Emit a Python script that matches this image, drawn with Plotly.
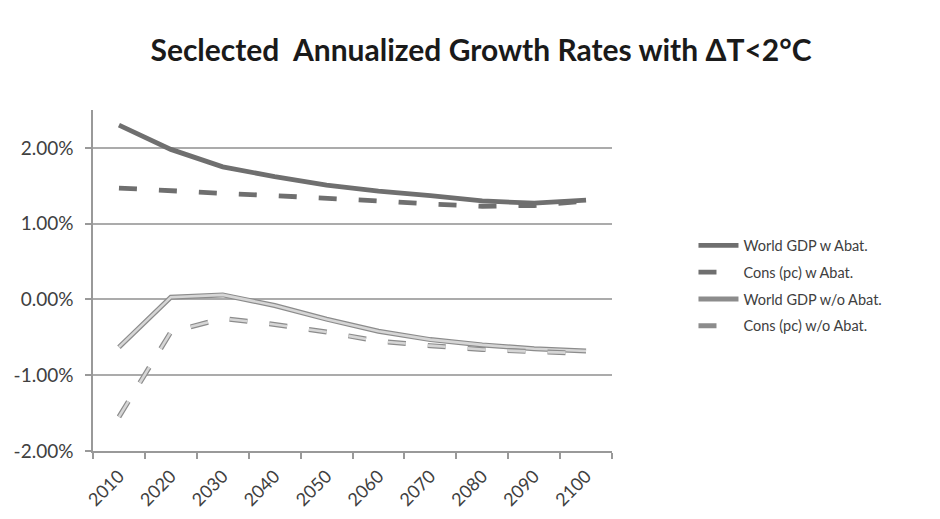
import plotly.graph_objects as go

years = ["2010", "2020", "2030", "2040", "2050", "2060", "2070", "2080", "2090", "2100"]
gdp_w_abat = [2.30, 1.98, 1.75, 1.62, 1.51, 1.43, 1.37, 1.30, 1.27, 1.31]
cons_w_abat = [1.47, 1.43, 1.40, 1.37, 1.34, 1.30, 1.26, 1.23, 1.24, 1.30]
gdp_wo_abat = [-0.63, 0.03, 0.06, -0.08, -0.26, -0.42, -0.53, -0.60, -0.65, -0.68]
cons_wo_abat = [-1.55, -0.43, -0.25, -0.33, -0.43, -0.55, -0.61, -0.66, -0.69, -0.71]

y_tick_vals = [-2, -1, 0, 1, 2]
y_tick_text = ["-2.00%", "-1.00%", "0.00%", "1.00%", "2.00%"]

names = ["World GDP w Abat.", "Cons (pc) w Abat.", "World GDP w/o Abat.", "Cons (pc) w/o Abat."]

DARK = "#6f6f6f"
OUTLINE = "#8c8c8c"
LIGHT = "#d6d6d6"
DASH = "18px,22px"
FONT = "Lato, 'Open Sans', sans-serif"

fig = go.Figure()
fig.add_trace(go.Scatter(x=years, y=gdp_w_abat, mode="lines", name=names[0], legendgroup="g1",
                         line=dict(color=DARK, width=4.8)))
fig.add_trace(go.Scatter(x=years, y=cons_w_abat, mode="lines", name=names[1], legendgroup="g2",
                         line=dict(color=DARK, width=4.8, dash=DASH)))
# double-line style: outline underneath, light core on top
fig.add_trace(go.Scatter(x=years, y=gdp_wo_abat, mode="lines", name=names[2], legendgroup="g3",
                         line=dict(color=OUTLINE, width=5)))
fig.add_trace(go.Scatter(x=years, y=gdp_wo_abat, mode="lines", name=names[2], legendgroup="g3",
                         showlegend=False, line=dict(color=LIGHT, width=2.6)))
fig.add_trace(go.Scatter(x=years, y=cons_wo_abat, mode="lines", name=names[3], legendgroup="g4",
                         line=dict(color=OUTLINE, width=5, dash=DASH)))
fig.add_trace(go.Scatter(x=years, y=cons_wo_abat, mode="lines", name=names[3], legendgroup="g4",
                         showlegend=False, line=dict(color=LIGHT, width=2.6, dash=DASH)))

# the page body adds an 8px offset, so the figure is laid out 8px up/left
fig.update_layout(
    width=940, height=519,
    margin=dict(l=85, r=336, t=102, b=76, autoexpand=False),
    paper_bgcolor="white", plot_bgcolor="white",
    font=dict(family=FONT, size=15, color="#404040"),
    title=dict(text="Seclected \u00a0Annualized Growth Rates with \u0394T<2\u00b0C",
               x=473 / 940, xref="container", xanchor="center",
               y=1 - 42 / 519, yref="container", yanchor="middle",
               font=dict(family=FONT, size=30, color="#1a1a1a", weight="bold")),
    showlegend=True,
    legend=dict(x=1.157, xanchor="left", y=0.65, yanchor="top",
                font=dict(family=FONT, size=14.5, color="#404040"),
                bgcolor="rgba(0,0,0,0)", traceorder="grouped", tracegroupgap=5,
                itemwidth=40),
)
fig.update_xaxes(type="category", range=[-0.5, 9.5], automargin=False,
                 tickson="boundaries", ticks="outside", ticklen=6,
                 tickcolor="#999999", tickwidth=1.5, ticklabelstandoff=6,
                 showline=True, linecolor="#999999", linewidth=1.5,
                 showgrid=False, tickangle=-45, tickfont=dict(size=18, color="#404040"))
fig.update_yaxes(range=[-2, 2.5], automargin=False, tickvals=y_tick_vals, ticktext=y_tick_text,
                 ticks="outside", ticklen=6, tickcolor="#999999", tickwidth=1.5,
                 ticklabelstandoff=8,
                 showline=True, linecolor="#999999", linewidth=1.5,
                 showgrid=True, gridcolor="#ababab", gridwidth=1.5, zeroline=False,
                 tickfont=dict(size=19, color="#404040"))

fig.write_html("out.html")
